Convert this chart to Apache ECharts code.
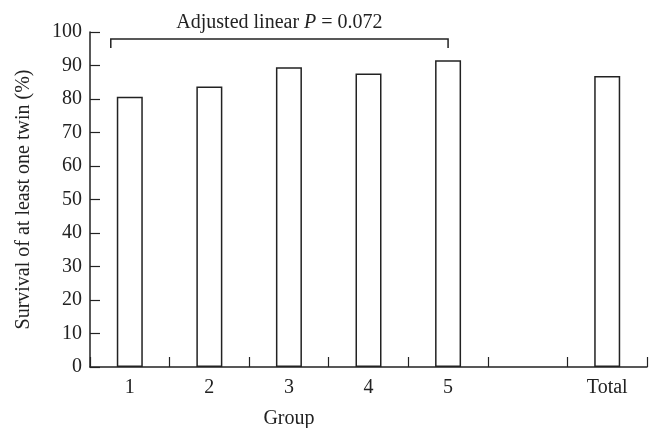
<!DOCTYPE html>
<html>
<head>
<meta charset="utf-8">
<script src="https://cdn.jsdelivr.net/npm/echarts@6/dist/echarts.min.js"></script>
<style>
  html, body { margin: 0; padding: 0; background: #fff; }
  #chart { width: 654px; height: 428px; }
</style>
</head>
<body>
<div id="chart"></div>
<script>
// survival of at least one twin, by group
const groups = ['1', '2', '3', '4', '5', '', 'Total']
const survival = [80.7, 83.7, 89.5, 87.6, 91.6, null, 86.9]
const yTicks = { min: 0, max: 100, step: 10 }

// bracket over groups 1..5
const bracketText = 'Adjusted linear '
const bracketP = 'P'
const bracketValue = ' = 0.072'
const bracketTop = 97.9
const bracketFoot = 95.2

const font = 'Liberation Serif'
const ink = '#222'

const chart = echarts.init(document.getElementById('chart'))

chart.setOption({
  animation: false,
  grid: { left: 90, right: 7, top: 32, bottom: 61, outerBoundsMode: 'none', containLabel: false },
  xAxis: {
    type: 'category',
    data: groups,
    axisLine: { show: true, lineStyle: { color: ink, width: 1.5 } },
    axisTick: { show: true, inside: true, length: 10, interval: 0, lineStyle: { color: ink, width: 1.2 } },
    axisLabel: { color: ink, fontFamily: font, fontSize: 20, margin: 11, interval: 0 }
  },
  yAxis: {
    type: 'value',
    min: yTicks.min,
    max: yTicks.max,
    interval: yTicks.step,
    name: 'Survival of at least one twin (%)',
    nameLocation: 'middle',
    nameGap: 56,
    nameTextStyle: { color: ink, fontFamily: font, fontSize: 20 },
    axisLine: { show: true, lineStyle: { color: ink, width: 1.5 } },
    axisTick: { show: true, inside: true, length: 10, lineStyle: { color: ink, width: 1.2 } },
    axisLabel: { color: ink, fontFamily: font, fontSize: 20, margin: 8 },
    splitLine: { show: false }
  },
  series: [{
    type: 'bar',
    data: survival.map(v => v == null ? '-' : v),
    barWidth: 26,
    itemStyle: { color: '#fff', borderColor: ink, borderWidth: 1.5 }
  }]
})

const px = (cat) => chart.convertToPixel({ xAxisIndex: 0 }, cat)
const py = (v) => chart.convertToPixel({ yAxisIndex: 0 }, v)

const bLeft = px('1') - 19
const bRight = px('5')
const bTop = py(bracketTop)
const bFoot = py(bracketFoot)
const bMid = (bLeft + bRight) / 2

chart.setOption({
  graphic: [
    {
      type: 'polyline',
      shape: { points: [[bLeft, bFoot], [bLeft, bTop], [bRight, bTop], [bRight, bFoot]] },
      style: { stroke: ink, lineWidth: 1.5, fill: null }
    },
    {
      type: 'text',
      x: bMid,
      y: bTop - 16,
      style: {
        text: '{a|' + bracketText + '}{i|' + bracketP + '}{a|' + bracketValue + '}',
        align: 'center',
        verticalAlign: 'middle',
        rich: {
          a: { fontFamily: font, fontSize: 20, fill: ink },
          i: { fontFamily: font, fontSize: 20, fontStyle: 'italic', fill: ink }
        }
      }
    },
    {
      type: 'text',
      x: px('3'),
      y: py(0) + 52,
      style: {
        text: 'Group',
        align: 'center',
        verticalAlign: 'middle',
        fontFamily: font,
        fontSize: 20,
        fill: ink
      }
    }
  ]
})
</script>
</body>
</html>
